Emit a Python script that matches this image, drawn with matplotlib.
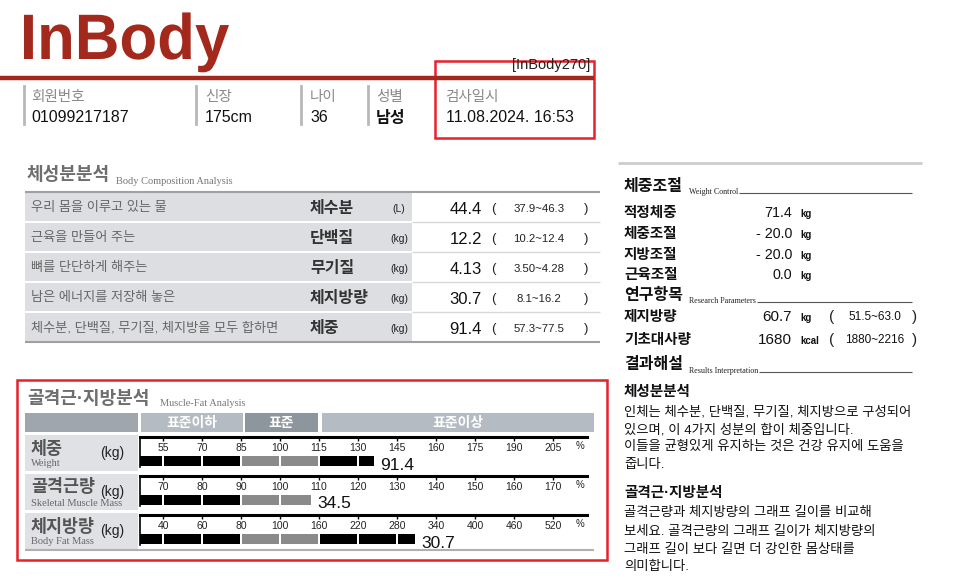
import numpy as np
import matplotlib
matplotlib.use("Agg")
import matplotlib.pyplot as plt
from matplotlib.patches import Rectangle, PathPatch
from matplotlib.textpath import TextPath
from matplotlib.font_manager import FontProperties
from matplotlib.transforms import Affine2D

plt.rcParams["font.family"] = ["Liberation Sans", "Noto Sans CJK KR", "DejaVu Sans"]

# ---------- data ----------
header_labels = ["회원번호", "신장", "나이", "성별", "검사일시"]
header_values = ["01099217187", "175cm", "36", "남성", "11.08.2024. 16:53"]

bc_desc = ["우리 몸을 이루고 있는 물", "근육을 만들어 주는", "뼈를 단단하게 해주는",
           "남은 에너지를 저장해 놓은", "체수분, 단백질, 무기질, 체지방을 모두 합하면"]
bc_names = ["체수분", "단백질", "무기질", "체지방량", "체중"]
bc_units = ["(L)", "(kg)", "(kg)", "(kg)", "(kg)"]
bc_values = ["44.4", "12.2", "4.13", "30.7", "91.4"]
bc_ranges = ["37.9~46.3", "10.2~12.4", "3.50~4.28", "8.1~16.2", "57.3~77.5"]

mf_bands = ["표준이하", "표준", "표준이상"]
mf_names = ["체중", "골격근량", "체지방량"]
mf_names_en = ["Weight", "Skeletal Muscle Mass", "Body Fat Mass"]
mf_values = ["91.4", "34.5", "30.7"]
mf_percent = [136, 108, 308]
mf_ticks = [
    [55, 70, 85, 100, 115, 130, 145, 160, 175, 190, 205],
    [70, 80, 90, 100, 110, 120, 130, 140, 150, 160, 170],
    [40, 60, 80, 100, 160, 220, 280, 340, 400, 460, 520],
]

wc_labels = ["적정체중", "체중조절", "지방조절", "근육조절"]
wc_values = ["71.4", "- 20.0", "- 20.0", "0.0"]
rp_labels = ["제지방량", "기초대사량"]
rp_values = ["60.7", "1680"]
rp_units = ["kg", "kcal"]
rp_ranges = ["51.5~63.0", "1880~2216"]

interp_title1 = "체성분분석"
interp_text1 = ["인체는 체수분, 단백질, 무기질, 체지방으로 구성되어",
                "있으며, 이 4가지 성분의 합이 체중입니다.",
                "이들을 균형있게 유지하는 것은 건강 유지에 도움을",
                "줍니다."]
interp_title2 = "골격근·지방분석"
interp_text2 = ["골격근량과 체지방량의 그래프 길이를 비교해",
                "보세요. 골격근량의 그래프 길이가 체지방량의",
                "그래프 길이 보다 길면 더 강인한 몸상태를",
                "의미합니다."]

W, H = 960, 579
RED = "#a3291d"
BOX_RED = "#e8202a"
SERIF = "Liberation Serif"

fig = plt.figure(figsize=(9.6, 5.79), dpi=100)
ax = fig.add_axes([0, 0, 1, 1])
ax.set_xlim(0, W)
ax.set_ylim(H, 0)
ax.axis("off")


def hline(x0, x1, y, color, lw):
    ax.plot([x0, x1], [y, y], color=color, lw=lw, solid_capstyle="butt")


def box(x, y, w, h, color, **kw):
    ax.add_patch(Rectangle((x, y), w, h, facecolor=color, edgecolor="none", **kw))


# ---------- logo / header ----------
tp = TextPath((0, 0), "InBody", size=1, prop=FontProperties(family="Liberation Sans", weight="bold"))
ext = tp.get_extents()
sx = 205 / ext.width
sy = 46 / 0.716
logo = PathPatch(tp, facecolor=RED, edgecolor="none",
                 transform=Affine2D().translate(-ext.x0, 0).scale(sx, -sy).translate(24, 59) + ax.transData)
ax.add_patch(logo)

ax.text(590, 65, "[InBody270]", ha="right", va="center", fontsize=10.5, color="#222")
hline(0, 594, 78, RED, 3.2)

header_x = [31, 205, 310, 376, 445]
sep_x = [24, 196, 301, 368]
for x in sep_x:
    ax.plot([x, x], [86, 124], color="#b8b8b8", lw=2)
for i, (lab, val) in enumerate(zip(header_labels, header_values)):
    ax.text(header_x[i], 97, lab, ha="left", va="center", fontsize=10.5, color="#8a8a8a")
    ax.text(header_x[i] + (1 if i == 4 else 0), 118, val, ha="left", va="center", fontsize=11.5,
            color="#111", weight="bold" if lab == "성별" else "normal")

ax.add_patch(Rectangle((435, 61), 159, 77, facecolor="none", edgecolor=BOX_RED, lw=1.8))

# ---------- body composition table ----------
ax.text(27, 176, "체성분분석", ha="left", va="center", fontsize=13, weight="bold", color="#6e6e6e")
ax.text(116, 181, "Body Composition Analysis", ha="left", va="center", fontsize=7.5,
        color="#777", family=SERIF)
hline(25, 600, 192, "#a0a0a0", 1.5)
for i in range(len(bc_names)):
    y0 = 192 + 30 * i
    box(25, y0 + 1, 387, 28, "#dcdee1")
    if i < len(bc_names) - 1:
        hline(412, 600, y0 + 30, "#d8d8d8", 1)
    yc = y0 + 16
    ax.text(31, yc, bc_desc[i], ha="left", va="center", fontsize=9.5, color="#666")
    ax.text(310, yc, bc_names[i], ha="left", va="center", fontsize=11.5, weight="bold", color="#333")
    ax.text(399, yc + 1, bc_units[i], ha="center", va="center", fontsize=7.5, color="#222")
    ax.text(482, yc + 1, bc_values[i], ha="right", va="center", fontsize=12, color="#111")
    ax.text(493, yc + 1, "(", ha="center", va="center", fontsize=9.5, color="#222")
    ax.text(539, yc + 1, bc_ranges[i], ha="center", va="center", fontsize=8.2, color="#222")
    ax.text(586, yc + 1, ")", ha="center", va="center", fontsize=9.5, color="#222")
hline(25, 600, 342, "#a0a0a0", 1.5)

# ---------- muscle-fat analysis ----------
ax.add_patch(Rectangle((17, 380), 590, 180, facecolor="none", edgecolor=BOX_RED, lw=1.8))
ax.text(27, 400, "골격근·지방분석", ha="left", va="center", fontsize=13, weight="bold", color="#6e6e6e")
ax.text(160, 404, "Muscle-Fat Analysis", ha="left", va="center", fontsize=7.5, color="#777", family=SERIF)

box(25, 413, 113, 19, "#9fa6ad")
band_x = [(141, 243), (245, 318), (322, 594)]
band_c = ["#b4bbc2", "#8d959d", "#b4bbc2"]
for (x0, x1), c, name in zip(band_x, band_c, mf_bands):
    box(x0, 413, x1 - x0, 19, c)
    ax.text((x0 + x1) / 2, 423, name, ha="center", va="center", fontsize=10, weight="bold", color="white")

row_tops = [437, 476, 515]
gap = 0.03
for i, top in enumerate(row_tops):
    box(25, top - 2, 113, 36 if i < 2 else 37, "#dfe1e4")
    ax.text(31, top + 11, mf_names[i], ha="left", va="center", fontsize=12.5, weight="bold", color="#555")
    ax.text(31, top + 27, mf_names_en[i], ha="left", va="center", fontsize=7.5, color="#666", family=SERIF)
    ax.text(112, top + 16, "(kg)", ha="center", va="center", fontsize=10, color="#222")

    ticks = mf_ticks[i]
    idx = np.arange(len(ticks))
    bx = fig.add_axes([140 / W, 1 - (top + 30) / H, (587 - 140) / W, 30 / H])
    x_left = (140 - 163) / 39
    bx.set_xlim(x_left, (587 - 163) / 39)
    bx.set_ylim(30, 0)
    bx.patch.set_alpha(0)
    for s in ["right", "bottom"]:
        bx.spines[s].set_visible(False)
    bx.spines["top"].set_linewidth(2.2)
    bx.spines["left"].set_linewidth(1.2)
    bx.set_xticks(idx)
    bx.set_yticks([])
    bx.xaxis.set_ticks_position("top")
    bx.tick_params(axis="x", direction="in", length=3, width=1, labeltop=False, labelbottom=False)
    for k, t in enumerate(ticks):
        bx.text(k, 11, str(t), ha="center", va="center", fontsize=7.5, color="#222")
    bx.text(10.7, 9, "%", ha="center", va="center", fontsize=7, color="#222")

    end = np.interp(mf_percent[i], ticks, idx)
    bounds = [x_left] + list(idx)
    for k, s in enumerate(bounds):
        if s >= end:
            break
        e = bounds[k + 1] if k + 1 < len(bounds) else end
        left = s + (gap if k > 0 else 0)
        right = e - gap if e < end else end
        c = "#8a8a8a" if 2 <= s < 4 else "black"
        bx.barh(19, right - left, left=left, height=10, color=c, align="edge", linewidth=0)
    bx.text(end + 0.17, 28, mf_values[i], ha="left", va="center", fontsize=12.5, color="#111", clip_on=False)

hline(25, 594, 550, "#b0b0b0", 1.5)

# ---------- right panel ----------
hline(618, 922, 163, "#cccccc", 2)


def section(y, title, sub):
    ax.text(624, y, title, ha="left", va="center", fontsize=11.5, weight="heavy", color="#111")
    s = ax.text(689, y + 6, sub, ha="left", va="center", fontsize=5.8, color="#222", family=SERIF)
    fig.canvas.draw()
    bb = s.get_window_extent()
    x0 = ax.transData.inverted().transform((bb.x1, bb.y0))[0]
    hline(x0 + 1, 912, y + 7, "#555", 0.8)


section(186, "체중조절", "Weight Control")
for lab, val, y in zip(wc_labels, wc_values, [213, 234, 255, 275]):
    ax.text(624, y, lab, ha="left", va="center", fontsize=10.5, weight="bold", color="#111")
    ax.text(792, y, val, ha="right", va="center", fontsize=10.3, color="#111")
    ax.text(800, y + 1, "kg", ha="left", va="center", fontsize=7, weight="bold", color="#111")

section(295, "연구항목", "Research Parameters")
for lab, val, unit, rng, y in zip(rp_labels, rp_values, rp_units, rp_ranges, [317, 340]):
    ax.text(624, y, lab, ha="left", va="center", fontsize=10.5, weight="bold", color="#111")
    ax.text(792, y, val, ha="right", va="center", fontsize=11, color="#111")
    ax.text(800, y + 1, unit, ha="left", va="center", fontsize=7, weight="bold", color="#111")
    ax.text(832, y, "(", ha="center", va="center", fontsize=11, color="#222")
    ax.text(875, y, rng, ha="center", va="center", fontsize=8.5, color="#111")
    ax.text(914, y, ")", ha="center", va="center", fontsize=11, color="#222")

section(365, "결과해설", "Results Interpretation")
ax.text(624, 392, interp_title1, ha="left", va="center", fontsize=10.5, weight="bold", color="#111")
for line, y in zip(interp_text1, [412, 430, 447, 465]):
    ax.text(624, y, line, ha="left", va="center", fontsize=9.6, color="#111")
ax.text(624, 493, interp_title2, ha="left", va="center", fontsize=10.5, weight="bold", color="#111")
for line, y in zip(interp_text2, [513, 532, 550, 567]):
    ax.text(624, y, line, ha="left", va="center", fontsize=9.6, color="#111")

fig.savefig("out.png", dpi=100)
